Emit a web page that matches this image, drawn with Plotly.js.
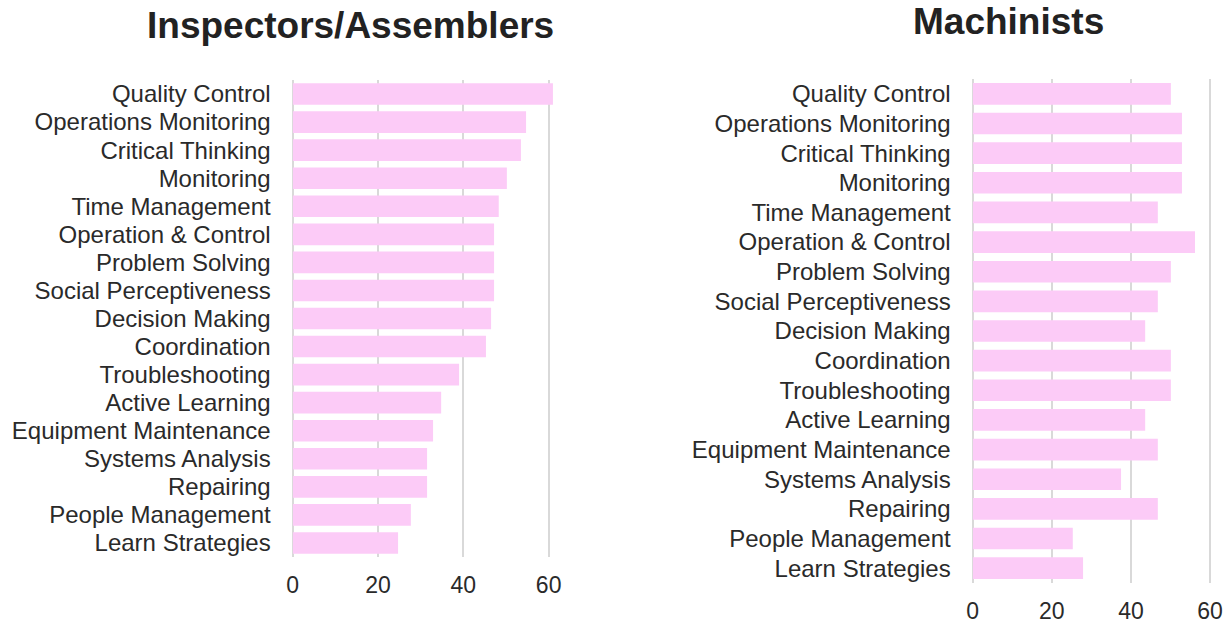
<!DOCTYPE html>
<html>
<head>
<meta charset="utf-8">
<script src="https://cdn.plot.ly/plotly-3.0.1.min.js"></script>
<style>html,body{margin:0;padding:0;background:#fff;}#chart{width:1227px;height:623px;}</style>
</head>
<body>
<div id="chart"></div>
<script>
const skills = ["Quality Control","Operations Monitoring","Critical Thinking","Monitoring","Time Management","Operation & Control","Problem Solving","Social Perceptiveness","Decision Making","Coordination","Troubleshooting","Active Learning","Equipment Maintenance","Systems Analysis","Repairing","People Management","Learn Strategies"];
const inspectorsValues = [61.0,54.7,53.5,50.2,48.3,47.2,47.2,47.2,46.5,45.3,39.0,34.8,32.9,31.5,31.5,27.7,24.7];
const machinistsValues = [50.1,52.9,52.9,52.9,46.8,56.2,50.1,46.8,43.6,50.1,50.1,43.6,46.8,37.5,46.8,25.3,27.9];
const xTicks = [0,20,40,60];
const titles = ["Inspectors/Assemblers","Machinists"];

const W = 1227, H = 623;
const barColor = "#fccbf7";
const gridColor = "#d9d9d9";
const font = "Liberation Sans, Arial, Helvetica, sans-serif";

const traces = [
  {type:"bar", orientation:"h", x:inspectorsValues, y:skills, xaxis:"x", yaxis:"y",
   marker:{color:barColor}, width:0.77, hoverinfo:"x+y"},
  {type:"bar", orientation:"h", x:machinistsValues, y:skills, xaxis:"x2", yaxis:"y2",
   marker:{color:barColor}, width:0.73, hoverinfo:"x+y"}
];

function xa(domain, range){
  return {domain:domain, range:range, tickvals:xTicks, showgrid:true, gridcolor:gridColor, gridwidth:2,
    zeroline:true, zerolinecolor:gridColor, zerolinewidth:2, showline:false, ticks:"",
    ticklabelstandoff:12, tickfont:{family:font, size:23, color:"#2a2a2a"}, fixedrange:true};
}
function ya(domain, anchor){
  return {domain:domain, anchor:anchor, type:"category", categoryarray:skills, range:[16.5,-0.5],
    tickmode:"linear", tick0:0, dtick:1,
    showgrid:false, zeroline:false, showline:false, ticks:"", ticklabelstandoff:21,
    tickfont:{family:font, size:24, color:"#2a2a2a"}, fixedrange:true};
}

const layout = {
  width:W, height:H, margin:{l:0,r:0,t:0,b:0}, paper_bgcolor:"#fff", plot_bgcolor:"#fff",
  showlegend:false, bargap:0.2,
  xaxis: Object.assign(xa([292.7/W, 557.2/W],[0,62]), {anchor:"y"}),
  yaxis: ya([1-557/H, 1-80/H], "x"),
  xaxis2: Object.assign(xa([972.7/W, 1214/W],[0,61]), {anchor:"y2"}),
  yaxis2: ya([1-583/H, 1-79/H], "x2"),
  annotations:[
    {text:"<b>"+titles[0]+"</b>", xref:"paper", yref:"paper", x:350/W, y:1-25/H, xanchor:"center", yanchor:"middle",
     showarrow:false, font:{family:font, size:37, color:"#222"}},
    {text:"<b>"+titles[1]+"</b>", xref:"paper", yref:"paper", x:1008/W, y:1-22/H, xanchor:"center", yanchor:"middle",
     showarrow:false, font:{family:font, size:37, color:"#222"}}
  ]
};

Plotly.newPlot("chart", traces, layout, {displayModeBar:false, staticPlot:true});
</script>
</body>
</html>
